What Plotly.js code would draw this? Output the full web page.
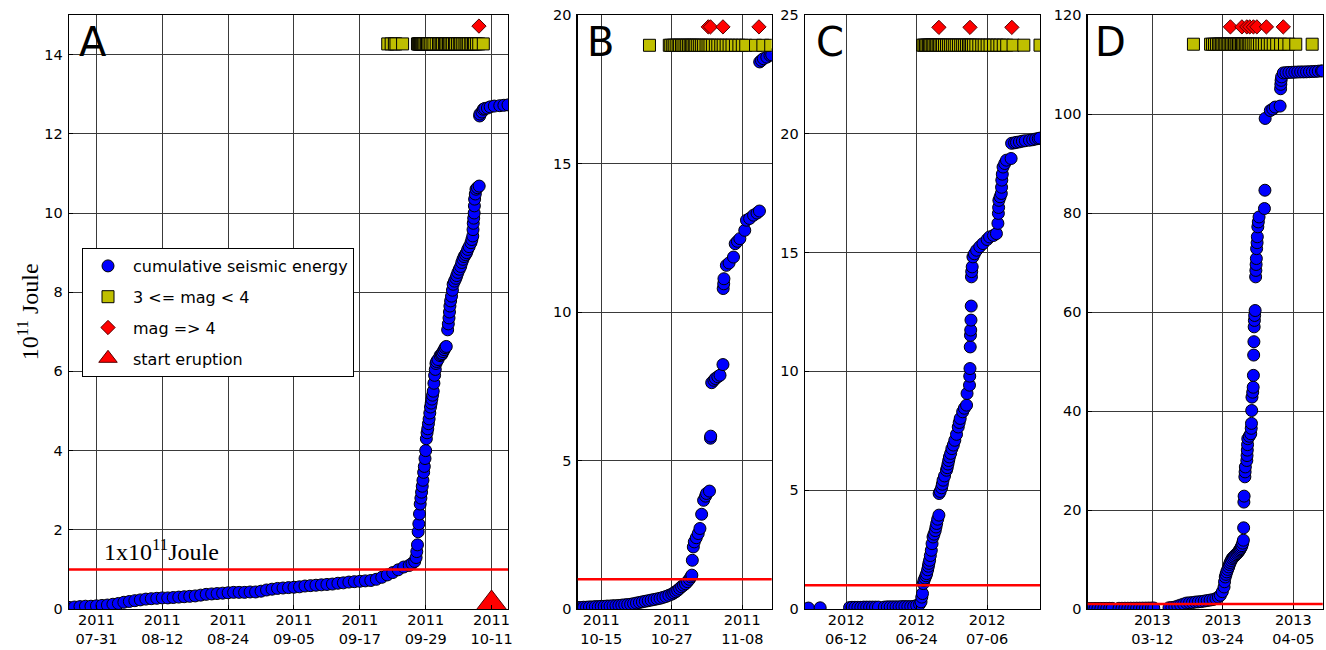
<!DOCTYPE html>
<html>
<head>
<meta charset="utf-8">
<script src="https://cdn.plot.ly/plotly-3.0.1.min.js"></script>
<style>html,body{margin:0;padding:0;background:#fff;}#chart{width:1326px;height:650px;}</style>
</head>
<body>
<div id="chart"></div>
<script>
// ---------------- DATA ----------------
// Panel A (2011)
const aEnergyDates = [
'2011-07-26','2011-07-27','2011-07-28','2011-07-29','2011-07-30','2011-07-31','2011-08-01','2011-08-02','2011-08-03','2011-08-04',
'2011-08-05','2011-08-06','2011-08-07','2011-08-08','2011-08-09','2011-08-10','2011-08-11','2011-08-12','2011-08-13','2011-08-14',
'2011-08-15','2011-08-16','2011-08-17','2011-08-18','2011-08-19','2011-08-20','2011-08-21','2011-08-22','2011-08-23','2011-08-24',
'2011-08-25','2011-08-26','2011-08-27','2011-08-28','2011-08-29','2011-08-30','2011-08-31','2011-09-01','2011-09-02','2011-09-03',
'2011-09-04','2011-09-05','2011-09-06','2011-09-07','2011-09-08','2011-09-09','2011-09-10','2011-09-11','2011-09-12','2011-09-13',
'2011-09-14','2011-09-15','2011-09-16','2011-09-17','2011-09-18','2011-09-19','2011-09-20','2011-09-21','2011-09-22','2011-09-23',
'2011-09-24','2011-09-25','2011-09-26 00:00','2011-09-26 12:00','2011-09-27 00:00','2011-09-27 06:00','2011-09-27 09:00',
'2011-09-27 12:00','2011-09-27 15:00','2011-09-27 18:00','2011-09-27 21:00','2011-09-28 00:00','2011-09-28 03:00','2011-09-28 06:00',
'2011-09-28 09:00','2011-09-28 12:00','2011-09-28 15:00','2011-09-28 18:00','2011-09-28 21:00','2011-09-29 00:00','2011-09-29 03:00',
'2011-09-29 06:00','2011-09-29 09:00','2011-09-29 12:00','2011-09-29 15:00','2011-09-29 18:00','2011-09-29 21:00','2011-09-30 00:00',
'2011-09-30 03:00','2011-09-30 06:00','2011-09-30 09:00','2011-09-30 12:00','2011-09-30 15:00','2011-09-30 18:00','2011-09-30 21:00',
'2011-10-01 00:00','2011-10-01 06:00','2011-10-01 15:00','2011-10-01 21:00','2011-10-02 00:00','2011-10-02 04:00','2011-10-02 09:00',
'2011-10-02 13:00','2011-10-02 18:00','2011-10-03 00:00','2011-10-03 03:00','2011-10-03 06:00','2011-10-03 08:00','2011-10-03 10:00',
'2011-10-03 13:00','2011-10-03 17:00','2011-10-03 21:00','2011-10-04 00:00','2011-10-04 06:00','2011-10-04 12:00','2011-10-04 16:00',
'2011-10-04 21:00','2011-10-05 03:00','2011-10-05 09:00','2011-10-05 14:00','2011-10-05 19:00','2011-10-06 00:00','2011-10-06 06:00',
'2011-10-06 11:00','2011-10-06 16:00','2011-10-06 22:00','2011-10-07 06:00','2011-10-07 10:00','2011-10-07 14:00','2011-10-07 15:00',
'2011-10-07 16:00','2011-10-07 18:00','2011-10-07 20:00','2011-10-07 21:00','2011-10-07 22:00','2011-10-08 01:00','2011-10-08 04:00',
'2011-10-08 10:00','2011-10-08 18:00','2011-10-08 20:00','2011-10-08 21:00','2011-10-09 06:00','2011-10-09 12:00','2011-10-09 18:00',
'2011-10-10 06:00','2011-10-10 18:00','2011-10-11 12:00','2011-10-12 12:00','2011-10-13 06:00','2011-10-14 00:00'];
const aEnergyValues = [
0.04,0.05,0.06,0.07,0.07,0.08,0.09,0.10,0.12,0.14,
0.17,0.19,0.21,0.23,0.25,0.26,0.27,0.28,0.28,0.29,
0.30,0.31,0.32,0.33,0.35,0.37,0.38,0.39,0.40,0.41,
0.42,0.42,0.42,0.43,0.43,0.45,0.48,0.50,0.52,0.53,
0.54,0.55,0.56,0.58,0.59,0.60,0.61,0.62,0.63,0.65,
0.66,0.68,0.69,0.70,0.71,0.72,0.75,0.80,0.86,0.92,
0.99,1.06,1.10,1.15,1.20,1.30,1.45,
1.62,1.95,2.15,2.40,2.65,2.80,2.95,
3.10,3.25,3.45,3.60,3.80,4.00,4.30,
4.45,4.55,4.68,4.80,4.95,5.10,5.20,
5.30,5.40,5.50,5.70,5.90,6.05,6.20,
6.25,6.30,6.40,6.42,6.45,6.50,6.55,
6.60,6.63,7.05,7.20,7.35,7.50,7.65,
7.78,7.90,8.05,8.20,8.28,8.35,8.42,
8.50,8.58,8.65,8.75,8.83,8.90,8.95,
9.00,9.08,9.15,9.25,9.33,9.42,9.58,
9.74,9.87,10.00,10.18,10.35,10.48,10.60,
10.64,10.68,12.45,12.50,12.55,12.62,12.64,
12.65,12.68,12.70,12.71,12.72,12.73];
const aSmallQuakeDates = [
'2011-09-22 02:00','2011-09-22 17:00','2011-09-23 07:00','2011-09-23 14:00','2011-09-24 19:00',
'2011-09-27 12:00','2011-09-27 15:00','2011-09-27 18:00','2011-09-27 20:00','2011-09-27 23:00','2011-09-28 02:00','2011-09-28 05:00',
'2011-09-28 09:00','2011-09-28 13:00','2011-09-28 16:00','2011-09-28 21:00','2011-09-29 03:00','2011-09-29 08:00','2011-09-29 14:00',
'2011-09-29 20:00','2011-09-30 04:00','2011-09-30 12:00','2011-09-30 22:00','2011-10-01 08:00','2011-10-01 14:00','2011-10-01 20:00',
'2011-10-02 02:00','2011-10-02 10:00','2011-10-02 15:00','2011-10-02 21:00','2011-10-03 04:00','2011-10-03 09:00','2011-10-03 15:00',
'2011-10-03 22:00','2011-10-04 06:00','2011-10-04 11:00','2011-10-04 19:00','2011-10-05 03:00','2011-10-05 09:00','2011-10-05 16:00',
'2011-10-06 00:00','2011-10-06 08:00','2011-10-06 13:00','2011-10-06 20:00','2011-10-07 05:00','2011-10-07 10:00','2011-10-07 17:00',
'2011-10-07 22:00','2011-10-08 06:00','2011-10-08 16:00','2011-10-09 12:00'];
const aBigQuakeDates = ['2011-10-08 17:00'];
const eruptionStartDates = ['2011-10-11'];
const eruptionStartValues = [0];
const aTickVals = ['2011-07-31','2011-08-12','2011-08-24','2011-09-05','2011-09-17','2011-09-29','2011-10-11'];
const aTickText = ['2011<br>07-31','2011<br>08-12','2011<br>08-24','2011<br>09-05','2011<br>09-17','2011<br>09-29','2011<br>10-11'];

// Panel B (2011)
const bEnergyDates = [
'2011-10-11 00:00','2011-10-11 12:00','2011-10-12 00:00','2011-10-12 12:00','2011-10-13 00:00','2011-10-13 12:00','2011-10-14 00:00',
'2011-10-14 12:00','2011-10-15 00:00','2011-10-15 12:00','2011-10-16 00:00','2011-10-16 12:00','2011-10-17 00:00','2011-10-17 12:00',
'2011-10-18 00:00','2011-10-18 12:00','2011-10-19 00:00','2011-10-19 12:00','2011-10-20 00:00','2011-10-20 12:00','2011-10-21 00:00',
'2011-10-21 12:00','2011-10-22 00:00','2011-10-22 12:00','2011-10-23 00:00','2011-10-23 12:00','2011-10-24 00:00','2011-10-24 12:00',
'2011-10-25 00:00','2011-10-25 12:00','2011-10-26 00:00','2011-10-26 12:00','2011-10-27 00:00','2011-10-27 08:00','2011-10-27 16:00',
'2011-10-28 00:00','2011-10-28 08:00','2011-10-28 16:00','2011-10-29 00:00','2011-10-29 08:00','2011-10-29 16:00','2011-10-30 00:00',
'2011-10-30 06:00','2011-10-30 10:00','2011-10-30 12:00','2011-10-30 16:00','2011-10-30 20:00','2011-10-31 04:00','2011-10-31 12:00',
'2011-10-31 19:00','2011-11-01 02:00','2011-11-01 10:00','2011-11-01 18:00','2011-11-01 22:00','2011-11-02 10:00','2011-11-02 14:00',
'2011-11-02 15:00','2011-11-02 19:00','2011-11-03 04:00','2011-11-03 10:00','2011-11-03 20:00','2011-11-04 05:00','2011-11-04 17:00',
'2011-11-04 18:00','2011-11-04 20:00','2011-11-04 21:00','2011-11-05 07:00','2011-11-05 18:00','2011-11-06 12:00','2011-11-06 19:00',
'2011-11-07 04:00','2011-11-07 14:00','2011-11-08 10:00','2011-11-08 17:00','2011-11-09 06:00','2011-11-09 22:00','2011-11-10 12:00',
'2011-11-10 22:00','2011-11-10 23:00','2011-11-11 06:00','2011-11-11 14:00','2011-11-12 04:00','2011-11-12 17:00','2011-11-13 00:00'];
const bEnergyValues = [
0.05,0.05,0.06,0.06,0.07,0.07,0.08,
0.08,0.09,0.09,0.10,0.10,0.11,0.11,
0.12,0.13,0.14,0.15,0.16,0.18,0.20,
0.22,0.24,0.26,0.28,0.30,0.32,0.34,
0.36,0.39,0.42,0.46,0.50,0.54,0.58,
0.63,0.69,0.75,0.80,0.85,0.92,1.00,
1.08,1.14,1.64,2.09,2.26,2.40,2.54,
2.71,3.19,3.66,3.80,3.89,3.97,5.75,
5.82,7.62,7.70,7.76,7.82,7.87,8.23,
10.79,10.95,11.12,11.57,11.65,11.85,12.30,
12.38,12.47,12.75,13.09,13.15,13.26,13.33,
13.40,18.42,18.47,18.53,18.58,18.64,18.66];
const bSmallQuakeDates = [
'2011-10-23 05:00',
'2011-10-26 14:00','2011-10-26 20:00','2011-10-27 04:00','2011-10-27 10:00','2011-10-27 18:00','2011-10-28 02:00','2011-10-28 08:00',
'2011-10-28 16:00','2011-10-28 22:00','2011-10-29 06:00','2011-10-29 13:00','2011-10-29 20:00','2011-10-30 03:00','2011-10-30 08:00',
'2011-10-30 14:00','2011-10-30 20:00','2011-10-31 02:00','2011-10-31 10:00','2011-10-31 18:00','2011-11-01 02:00','2011-11-01 10:00',
'2011-11-01 20:00','2011-11-02 04:00','2011-11-02 12:00','2011-11-02 22:00','2011-11-03 10:00','2011-11-03 20:00','2011-11-04 08:00',
'2011-11-04 18:00','2011-11-05 06:00','2011-11-05 18:00','2011-11-06 06:00','2011-11-06 20:00','2011-11-07 10:00','2011-11-08 00:00',
'2011-11-08 14:00','2011-11-10 06:00','2011-11-11 12:00','2011-11-12 20:00'];
const bBigQuakeDates = ['2011-11-02 05:00','2011-11-02 14:00','2011-11-04 17:00','2011-11-10 20:00'];
const bTickVals = ['2011-10-15','2011-10-27','2011-11-08'];
const bTickText = ['2011<br>10-15','2011<br>10-27','2011<br>11-08'];

// Panel C (2012)
const cEnergyDates = [
'2012-06-05 14:00','2012-06-07 14:00','2012-06-12 14:00','2012-06-13 00:00','2012-06-13 12:00','2012-06-14 00:00','2012-06-14 12:00',
'2012-06-15 00:00','2012-06-15 12:00','2012-06-16 00:00','2012-06-16 12:00','2012-06-17 00:00','2012-06-17 12:00','2012-06-18 12:00',
'2012-06-19 00:00','2012-06-19 12:00','2012-06-20 00:00','2012-06-20 12:00','2012-06-21 00:00','2012-06-21 12:00','2012-06-22 00:00',
'2012-06-22 12:00','2012-06-23 00:00','2012-06-23 12:00','2012-06-24 00:00','2012-06-24 12:00','2012-06-24 18:00','2012-06-24 21:00',
'2012-06-25 00:00','2012-06-25 03:00','2012-06-25 06:00','2012-06-25 10:00','2012-06-25 14:00','2012-06-25 17:00','2012-06-25 21:00',
'2012-06-26 00:00','2012-06-26 02:00','2012-06-26 05:00','2012-06-26 08:00','2012-06-26 12:00','2012-06-26 15:00','2012-06-26 19:00',
'2012-06-26 23:00','2012-06-27 04:00','2012-06-27 07:00','2012-06-27 10:00','2012-06-27 14:00','2012-06-27 19:00','2012-06-27 20:00',
'2012-06-28 00:00','2012-06-28 06:00','2012-06-28 09:00','2012-06-28 12:00','2012-06-28 18:00','2012-06-29 02:00','2012-06-29 05:00',
'2012-06-29 08:00','2012-06-29 11:00','2012-06-29 14:00','2012-06-29 19:00','2012-06-30 00:00','2012-06-30 06:00','2012-06-30 12:00',
'2012-06-30 19:00','2012-07-01 02:00','2012-07-01 06:00','2012-07-01 10:00','2012-07-01 20:00','2012-07-02 03:00','2012-07-02 12:00',
'2012-07-02 14:00','2012-07-03 00:00','2012-07-03 01:00','2012-07-03 02:00','2012-07-03 03:00','2012-07-03 04:00','2012-07-03 05:00',
'2012-07-03 06:00','2012-07-03 07:00','2012-07-03 08:00','2012-07-03 09:00','2012-07-03 11:00','2012-07-03 14:00','2012-07-03 20:00',
'2012-07-04 05:00','2012-07-04 18:00','2012-07-05 07:00','2012-07-06 00:00','2012-07-06 10:00','2012-07-07 02:00','2012-07-07 14:00',
'2012-07-07 20:00','2012-07-07 22:00','2012-07-07 23:00','2012-07-08 00:00','2012-07-08 05:00','2012-07-08 10:00','2012-07-08 11:00',
'2012-07-08 12:00','2012-07-08 14:00','2012-07-08 17:00','2012-07-09 00:00','2012-07-09 07:00','2012-07-10 02:00','2012-07-10 04:00',
'2012-07-10 16:00','2012-07-11 00:00','2012-07-11 12:00','2012-07-12 00:00','2012-07-12 12:00','2012-07-13 05:00','2012-07-13 18:00',
'2012-07-14 06:00','2012-07-14 17:00','2012-07-15 00:00'];
const cEnergyValues = [
0.04,0.05,0.06,0.07,0.07,0.07,0.07,
0.08,0.08,0.08,0.08,0.08,0.08,0.08,
0.09,0.09,0.09,0.09,0.09,0.10,0.10,
0.10,0.10,0.11,0.15,0.20,0.30,0.50,
0.65,1.07,1.20,1.30,1.40,1.49,1.65,
1.80,1.92,2.05,2.25,2.47,2.75,3.03,
3.15,3.30,3.45,3.60,3.78,3.95,4.86,
4.95,5.10,5.25,5.42,5.60,5.84,5.95,
6.10,6.25,6.40,6.55,6.75,6.90,7.10,
7.35,7.66,7.85,8.02,8.30,8.45,8.58,
9.07,9.42,9.80,10.12,11.03,11.52,11.74,
12.16,12.75,13.98,14.20,14.40,14.82,14.95,
15.10,15.25,15.38,15.55,15.66,15.72,15.80,
16.23,16.65,16.90,17.20,17.35,17.49,17.75,
18.05,18.30,18.60,18.75,18.89,18.96,19.60,
19.62,19.64,19.66,19.69,19.71,19.73,19.75,
19.78,19.80,19.82];
const cSmallQuakeDates = [
'2012-06-25 00:00','2012-06-25 06:00','2012-06-25 12:00','2012-06-25 18:00','2012-06-26 00:00','2012-06-26 05:00','2012-06-26 10:00',
'2012-06-26 16:00','2012-06-26 22:00','2012-06-27 04:00','2012-06-27 10:00','2012-06-27 16:00','2012-06-27 21:00','2012-06-28 04:00',
'2012-06-28 10:00','2012-06-28 18:00','2012-06-29 02:00','2012-06-29 10:00','2012-06-29 18:00','2012-06-30 02:00','2012-06-30 10:00',
'2012-06-30 18:00','2012-07-01 03:00','2012-07-01 12:00','2012-07-01 20:00','2012-07-02 04:00','2012-07-02 12:00','2012-07-02 20:00',
'2012-07-03 02:00','2012-07-03 08:00','2012-07-03 16:00','2012-07-04 02:00','2012-07-04 14:00','2012-07-05 02:00','2012-07-05 12:00',
'2012-07-06 00:00','2012-07-06 12:00','2012-07-07 02:00','2012-07-07 16:00','2012-07-08 04:00','2012-07-08 18:00','2012-07-09 08:00',
'2012-07-10 10:00','2012-07-12 06:00','2012-07-15 00:00'];
const cBigQuakeDates = ['2012-06-27 19:00','2012-07-03 02:00','2012-07-10 05:00'];
const cTickVals = ['2012-06-12','2012-06-24','2012-07-06'];
const cTickText = ['2012<br>06-12','2012<br>06-24','2012<br>07-06'];

// Panel D (2013)
const dEnergyDates = [
'2013-03-01 06:00','2013-03-01 18:00','2013-03-02 06:00','2013-03-02 18:00','2013-03-03 06:00','2013-03-03 18:00','2013-03-04 06:00',
'2013-03-04 18:00','2013-03-05 04:00','2013-03-06 08:00','2013-03-06 20:00','2013-03-07 08:00','2013-03-07 20:00','2013-03-08 08:00',
'2013-03-08 20:00','2013-03-09 08:00','2013-03-09 20:00','2013-03-10 08:00','2013-03-10 20:00','2013-03-11 08:00','2013-03-11 20:00',
'2013-03-12 06:00','2013-03-14 20:00','2013-03-15 08:00','2013-03-15 20:00','2013-03-16 08:00','2013-03-16 20:00','2013-03-17 08:00',
'2013-03-17 20:00','2013-03-18 08:00','2013-03-18 20:00','2013-03-19 08:00','2013-03-19 20:00','2013-03-20 08:00','2013-03-20 20:00',
'2013-03-21 08:00','2013-03-21 20:00','2013-03-22 08:00','2013-03-22 20:00','2013-03-23 06:00','2013-03-23 14:00','2013-03-23 22:00',
'2013-03-24 05:00','2013-03-24 07:00','2013-03-24 10:00','2013-03-24 13:00','2013-03-24 16:00','2013-03-24 20:00','2013-03-25 00:00',
'2013-03-25 03:00','2013-03-25 06:00','2013-03-25 10:00','2013-03-25 14:00','2013-03-25 19:00','2013-03-26 00:00','2013-03-26 05:00',
'2013-03-26 10:00','2013-03-26 14:00','2013-03-26 18:00','2013-03-26 21:00','2013-03-27 00:00','2013-03-27 03:00','2013-03-27 06:00',
'2013-03-27 09:00','2013-03-27 12:00','2013-03-27 13:00','2013-03-27 14:00','2013-03-27 15:00','2013-03-27 18:00','2013-03-27 19:00',
'2013-03-27 20:00','2013-03-28 02:00','2013-03-28 03:00','2013-03-28 04:00','2013-03-28 05:00','2013-03-28 06:00','2013-03-28 12:00',
'2013-03-28 18:00','2013-03-28 20:00','2013-03-28 21:00','2013-03-28 22:00','2013-03-28 23:00','2013-03-29 02:00','2013-03-29 04:00',
'2013-03-29 05:00','2013-03-29 06:00','2013-03-29 07:00','2013-03-29 08:00','2013-03-29 09:00','2013-03-29 10:00','2013-03-29 12:00',
'2013-03-29 14:00','2013-03-29 15:00','2013-03-29 16:00','2013-03-29 17:00','2013-03-29 18:00','2013-03-29 20:00','2013-03-29 21:00',
'2013-03-29 23:00','2013-03-30 01:00','2013-03-30 04:00','2013-03-31 02:00','2013-03-31 04:00','2013-03-31 05:00','2013-04-01 02:00',
'2013-04-01 12:00','2013-04-01 22:00','2013-04-02 18:00','2013-04-02 20:00','2013-04-02 21:00','2013-04-02 22:00','2013-04-03 00:00',
'2013-04-03 07:00','2013-04-03 18:00','2013-04-04 06:00','2013-04-04 18:00','2013-04-05 06:00','2013-04-05 18:00','2013-04-06 06:00',
'2013-04-06 18:00','2013-04-07 06:00','2013-04-07 18:00','2013-04-08 06:00','2013-04-08 18:00','2013-04-09 06:00','2013-04-09 19:00',
'2013-04-10 00:00'];
const dEnergyValues = [
0.10,0.10,0.11,0.11,0.12,0.12,0.12,
0.13,0.13,0.14,0.14,0.15,0.15,0.16,
0.16,0.17,0.17,0.18,0.18,0.19,0.19,
0.20,0.25,0.30,0.40,0.60,0.80,1.00,
1.20,1.25,1.30,1.40,1.45,1.50,1.60,
1.70,1.80,1.90,2.10,2.40,2.77,3.50,
4.45,5.50,6.47,7.00,7.50,8.00,8.50,
9.00,9.40,9.80,10.20,10.45,10.70,10.95,
11.20,11.45,11.70,11.95,12.20,12.50,12.80,
13.30,13.90,16.40,21.60,22.80,26.70,27.70,
28.70,30.00,31.00,32.10,33.20,34.40,34.90,
35.40,36.50,37.50,40.10,42.80,43.80,44.80,
47.20,51.30,54.00,57.00,58.30,59.30,60.30,
67.10,68.40,69.60,70.80,72.80,74.00,75.20,
77.20,78.20,79.20,80.90,84.60,99.10,100.70,
101.00,101.40,101.60,105.10,106.00,106.80,107.50,
108.30,108.35,108.40,108.42,108.45,108.48,108.50,
108.50,108.52,108.55,108.58,108.60,108.65,108.70,
108.70];
const dSmallQuakeDates = [
'2013-03-19 00:00',
'2013-03-21 22:00','2013-03-22 06:00','2013-03-22 14:00','2013-03-22 22:00','2013-03-23 06:00','2013-03-23 12:00','2013-03-23 18:00',
'2013-03-24 00:00','2013-03-24 06:00','2013-03-24 12:00','2013-03-24 18:00','2013-03-25 00:00','2013-03-25 06:00','2013-03-25 12:00',
'2013-03-25 18:00','2013-03-26 00:00','2013-03-26 06:00','2013-03-26 10:00','2013-03-26 16:00','2013-03-26 22:00','2013-03-27 04:00',
'2013-03-27 08:00','2013-03-27 14:00','2013-03-27 20:00','2013-03-28 02:00','2013-03-28 08:00','2013-03-28 14:00','2013-03-28 20:00',
'2013-03-29 04:00','2013-03-29 12:00','2013-03-29 20:00','2013-03-30 06:00','2013-03-30 16:00','2013-03-31 02:00','2013-03-31 14:00',
'2013-04-01 02:00','2013-04-01 14:00','2013-04-02 04:00','2013-04-02 20:00','2013-04-03 12:00','2013-04-04 06:00','2013-04-05 10:00',
'2013-04-08 05:00'];
const dBigQuakeDates = ['2013-03-25 07:00','2013-03-27 06:00','2013-03-28 02:00','2013-03-28 14:00','2013-03-29 05:00','2013-03-29 19:00',
'2013-03-31 10:00','2013-04-03 07:00'];
const dTickVals = ['2013-03-12','2013-03-24','2013-04-05'];
const dTickText = ['2013<br>03-12','2013<br>03-24','2013<br>04-05'];

const panelLetters = ['A','B','C','D'];
const legendNames = ['cumulative seismic energy','3 <= mag < 4','mag => 4','start eruption'];
const thresholdValue = 1;

// ---------------- STYLE / LAYOUT ----------------
const W = 1326, H = 650;
const M = {l:69, r:3, t:15, b:41};
const PW = W - M.l - M.r, PH = H - M.t - M.b;
const pxX = px => (px - M.l) / PW;
const pxY = py => (H - M.b - py) / PH;

const panels = [
  {energyX:aEnergyDates, energyY:aEnergyValues, smallX:aSmallQuakeDates, bigX:aBigQuakeDates,
   tv:aTickVals, tt:aTickText, range:['2011-07-26','2011-10-14'], yr:[0,15], dtick:2,
   dom:[69,508], rowSmall:14.27, rowBig:14.72, letterX:77},
  {energyX:bEnergyDates, energyY:bEnergyValues, smallX:bSmallQuakeDates, bigX:bBigQuakeDates,
   tv:bTickVals, tt:bTickText, range:['2011-10-11','2011-11-13'], yr:[0,20], dtick:5,
   dom:[577.7,771.7], rowSmall:18.98, rowBig:19.6, letterX:585},
  {energyX:cEnergyDates, energyY:cEnergyValues, smallX:cSmallQuakeDates, bigX:cBigQuakeDates,
   tv:cTickVals, tt:cTickText, range:['2012-06-05','2012-07-15'], yr:[0,25], dtick:5,
   dom:[805,1040], rowSmall:23.73, rowBig:24.48, letterX:814},
  {energyX:dEnergyDates, energyY:dEnergyValues, smallX:dSmallQuakeDates, bigX:dBigQuakeDates,
   tv:dTickVals, tt:dTickText, range:['2013-03-01','2013-04-10'], yr:[0,120], dtick:20,
   dom:[1087.7,1322.7], rowSmall:114.1, rowBig:117.6, letterX:1093}
];

const traces = [];
const layout = {
  width: W, height: H, margin: M,
  paper_bgcolor:'#fff', plot_bgcolor:'#fff',
  font:{family:'DejaVu Sans', color:'#000', size:14.5},
  showlegend:true,
  legend:{x:pxX(82), y:pxY(248), xanchor:'left', yanchor:'top', bgcolor:'#fff',
          bordercolor:'#000', borderwidth:1, font:{size:16, family:'DejaVu Sans'},
          traceorder:'grouped', tracegroupgap:7, itemwidth:40},
  shapes:[], annotations:[]
};

panels.forEach((p, i) => {
  const n = i === 0 ? '' : String(i + 1);
  const xa = 'x' + n, ya = 'y' + n;
  traces.push({type:'scatter', mode:'markers', x:p.energyX, y:p.energyY, xaxis:xa, yaxis:ya,
    name:legendNames[0], legendgroup:'g1', showlegend:i===0,
    marker:{symbol:'circle', size:12, color:'#0000ff', line:{color:'#000', width:1}}});
  traces.push({type:'scatter', mode:'markers', x:p.smallX, y:p.smallX.map(() => p.rowSmall), xaxis:xa, yaxis:ya,
    name:legendNames[1], legendgroup:'g2', showlegend:i===0,
    marker:{symbol:'square', size:12, color:'#bfbf00', line:{color:'#000', width:1}}});
  traces.push({type:'scatter', mode:'markers', x:p.bigX, y:p.bigX.map(() => p.rowBig), xaxis:xa, yaxis:ya,
    name:legendNames[2], legendgroup:'g3', showlegend:i===0,
    marker:{symbol:'diamond', size:11, color:'#ff0000', line:{color:'#550000', width:1}}});
  if (i === 0) {
    traces.push({type:'scatter', mode:'markers', x:eruptionStartDates, y:eruptionStartValues, xaxis:xa, yaxis:ya,
      name:legendNames[3], legendgroup:'g4', showlegend:true,
      marker:{symbol:'triangle-up', size:38, color:'#ff0000', line:{color:'#550000', width:1}}});
  }
  const common = {showgrid:true, gridcolor:'#3a3a3a', gridwidth:1, showline:true, mirror:true,
    linecolor:'#000', linewidth:1.3, zeroline:false, ticks:'inside', ticklen:4, tickcolor:'#000',
    tickfont:{size:14.5, family:'DejaVu Sans', color:'#000'}, fixedrange:true};
  layout['xaxis' + n] = Object.assign({}, common, {type:'date', domain:[pxX(p.dom[0]), pxX(p.dom[1])],
    range:p.range, anchor:ya, tickmode:'array', tickvals:p.tv, ticktext:p.tt, ticklabelstandoff:-3});
  layout['yaxis' + n] = Object.assign({}, common, {domain:[0,1], range:p.yr, dtick:p.dtick, anchor:xa,
    ticklabelstandoff:2});
  layout.shapes.push({type:'line', xref:xa + ' domain', x0:0, x1:1, yref:ya, y0:thresholdValue, y1:thresholdValue,
    line:{color:'#ff0000', width:2.5}});
  layout.annotations.push({xref:'paper', yref:'paper', x:pxX(p.letterX), y:pxY(42.5), xanchor:'left', yanchor:'middle',
    text:panelLetters[i], showarrow:false, font:{size:40, family:'DejaVu Sans', color:'#000'}});
});

layout.annotations.push({xref:'paper', yref:'paper', x:pxX(102), y:pxY(567), xanchor:'left', yanchor:'bottom',
  text:'1x10<sup>11</sup>Joule', showarrow:false, font:{size:24, family:'Liberation Serif', color:'#000'}});
layout.annotations.push({xref:'paper', yref:'paper', x:pxX(44.5), y:pxY(311.7), xanchor:'right', yanchor:'middle',
  textangle:-90, text:'10<sup>11</sup> Joule', showarrow:false, font:{size:24, family:'Liberation Serif', color:'#000'}});

Plotly.newPlot('chart', traces, layout, {displayModeBar:false, staticPlot:true});
</script>
</body>
</html>
